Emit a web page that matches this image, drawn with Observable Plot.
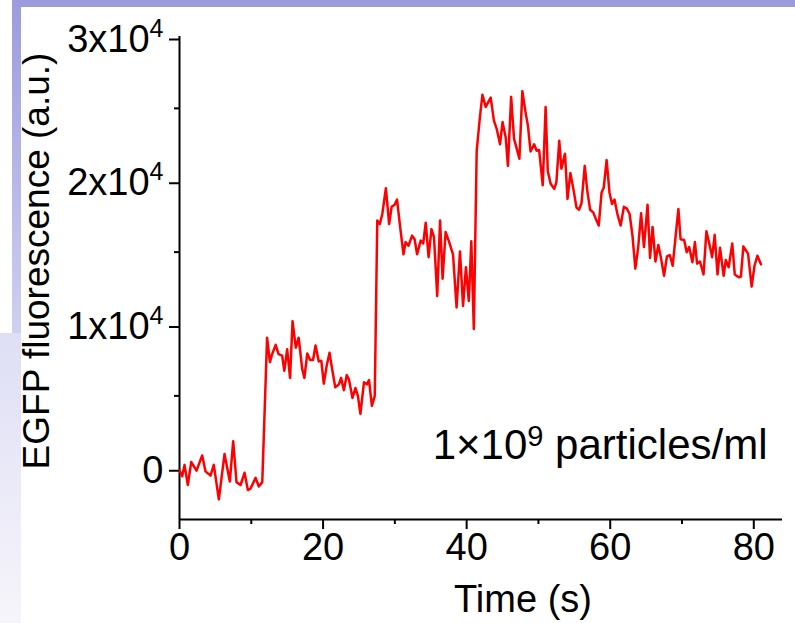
<!DOCTYPE html>
<html><head><meta charset="utf-8">
<script src="https://cdn.jsdelivr.net/npm/d3@7"></script>
<script src="https://cdn.jsdelivr.net/npm/@observablehq/plot@0.6"></script>
<style>
body{margin:0;background:#fff;width:795px;height:623px;position:relative;overflow:hidden;font-family:"Liberation Sans",Arial,sans-serif}
#chart{position:absolute;left:0;top:0}
.deco{position:absolute;pointer-events:none}
</style></head><body>
<div id="chart"></div>
<div class="deco" style="left:12px;top:0;width:783px;height:7px;background:rgb(155,155,222)"></div>
<div class="deco" style="left:12px;top:0;width:9px;height:333px;background:linear-gradient(rgb(155,155,222),rgb(208,208,240))"></div>
<div class="deco" style="left:0;top:333px;width:21px;height:290px;background:linear-gradient(rgb(222,222,245),rgb(246,245,251))"></div>
<script>
const time = [0.04,0.38,0.7,1.16,1.63,2.37,3.16,3.62,4.32,4.78,5.48,6.27,7.01,7.48,7.94,8.5,9.06,9.52,9.9,10.6,11.05,11.53,
12.2,12.6,12.9,13.4,13.8,14.3,14.6,15.0,15.4,15.75,16.2,16.6,17.1,17.4,17.8,18.2,18.6,18.95,19.4,19.75,20.1,20.5,20.9,21.3,21.7,22.2,22.5,22.9,23.3,23.6,24.1,24.5,24.85,25.2,25.7,26.1,26.4,26.8,27.2,
27.55,27.9,28.25,28.75,29.2,29.55,29.97,30.3,30.8,31.2,31.5,31.9,32.4,32.75,33.1,33.6,33.95,34.3,34.7,35.1,35.45,35.9,36.3,36.65,
37.07,37.5,38.1,38.6,39.07,39.5,39.9,40.3,40.65,41.0,
41.4,41.85,42.2,42.65,43.35,43.8,44.2,44.65,45.0,45.45,
45.75,46.2,46.6,47.35,47.76,48.2,48.55,48.9,49.4,49.75,
50.1,50.6,51.0,51.3,51.7,52.2,52.5,52.9,53.2,53.7,
54.05,54.45,54.9,55.3,55.65,56.0,56.45,56.8,57.2,57.65,
58.0,58.4,58.8,59.1,59.5,59.9,60.25,60.6,61.0,61.45,
61.9,62.3,62.7,63.1,63.5,63.9,64.3,64.7,65.2,65.55,
65.9,66.3,66.7,67.05,67.5,67.9,68.3,68.7,69.1,69.5,
69.8,70.3,70.65,71.0,71.45,71.8,72.1,72.5,73.0,73.4,
73.8,74.2,74.55,74.95,75.3,75.8,76.1,76.5,77.0,77.35,
77.9,78.2,78.55,79.2,79.7,80.1,80.5,81.0];
const fluorescence = [-200,-600,200,-1200,400,-200,850,-250,-550,200,-2200,950,-950,1850,-1000,-1200,-350,-1550,-1450,-700,-1300,-1000,
9050,7350,7900,8550,7900,7800,6750,8250,6250,10200,8350,9050,6850,6250,7950,7500,7500,8500,7400,7450,5850,7100,8000,6750,5600,5800,6250,5400,6450,6150,4850,5550,5000,3750,5950,5800,6100,4300,5000,
17200,16950,17650,19450,16950,18150,18300,18650,16500,14850,15700,15450,16150,15900,14850,15800,15600,17050,14650,16600,16050,11950,17200,13150,
16400,15800,14850,11150,15050,11250,13950,11600,15750,9650,
22050,24400,25950,25100,25750,24150,23550,22500,24050,22950,
21000,25800,22900,21500,26200,24750,23750,22000,22500,22050,
22100,19650,25100,20650,19750,19400,19850,22750,20800,21850,
18700,20500,19300,18100,17950,18400,21000,19300,17950,17750,
17300,16850,19150,19500,21400,19150,18350,18650,17650,16850,
18150,18050,17650,16150,13850,15350,17700,15350,18300,14600,
16750,14350,15500,14650,13350,14700,14800,14050,16050,18000,
15900,15850,15000,15350,14300,15700,14200,14350,13450,16450,
15600,14650,16200,13450,15300,13350,14450,13950,15600,13450,
13250,13300,15400,14900,12600,14050,14750,14150];
const xMajorTicks = [0,20,40,60,80];
const xMinorTicks = [10,30,50,70];
const yMajorTicks = [0,10000,20000,30000];
const yMinorTicks = [5000,15000,25000];
const yTickLabels = ["0","1x10^4","2x10^4","3x10^4"];
const xTitle = "Time (s)";
const yTitle = "EGFP fluorescence (a.u.)";
const annotation = "1\u00d710^9 particles/ml";

const data = time.map((t,i)=>({t, v: fluorescence[i]}));
const font = '"Liberation Sans", Arial, sans-serif';
const chart = Plot.plot({
  width:795, height:623, marginLeft:179, marginRight:13, marginTop:36, marginBottom:104,
  style:{fontFamily:font, fontSize:"38px", background:"transparent", color:"black"},
  x:{domain:[0,84]}, y:{domain:[-3600,30000]},
  marks:[
    Plot.axisX(xMajorTicks, {tickSize:10, tickPadding:4, strokeWidth:2, fontSize:38, label:null, tickFormat:d=>String(d)}),
    Plot.axisX(xMinorTicks, {tickSize:5, strokeWidth:2, fontSize:38, label:null, tickFormat:()=>""}),
    Plot.axisY(yMajorTicks, {tickSize:10, tickPadding:6, strokeWidth:2, fontSize:38, dy:3, label:null, tickFormat:d=>yTickLabels[yMajorTicks.indexOf(d)]}),
    Plot.axisY(yMinorTicks, {tickSize:5, strokeWidth:2, fontSize:38, label:null, tickFormat:()=>""}),
    Plot.ruleX([0], {strokeWidth:2}),
    Plot.ruleY([-3600], {strokeWidth:2}),
    Plot.line(data, {x:"t", y:"v", stroke:"#ff0000", strokeWidth:2.5}),
    Plot.text([yTitle], {text:d=>d, frameAnchor:"left", textAnchor:"middle", rotate:-90, dx:-142, dy:-17, fontSize:37}),
    Plot.text([xTitle], {text:d=>d, frameAnchor:"bottom", textAnchor:"middle", dx:42, dy:66, lineAnchor:"top", fontSize:38}),
    Plot.text([annotation], {text:d=>d, frameAnchor:"bottom-right", dx:-15, dy:-90, textAnchor:"end", lineAnchor:"top", fontSize:42})
  ]
});
document.getElementById("chart").appendChild(chart);
// render "^n" as superscripts
chart.querySelectorAll("text").forEach(el => {
  const m = /^(.*?)\^(\d+)(.*)$/.exec(el.textContent);
  if (!m) return;
  const ns = "http://www.w3.org/2000/svg";
  const big = !!m[3];
  const up = big ? 13 : 15;
  el.textContent = "";
  const a = document.createElementNS(ns, "tspan"); a.textContent = m[1]; el.appendChild(a);
  const s = document.createElementNS(ns, "tspan"); s.textContent = m[2];
  s.setAttribute("dy", String(-up)); s.setAttribute("font-size", big ? "29" : "25"); el.appendChild(s);
  if (m[3]) { const r = document.createElementNS(ns, "tspan"); r.textContent = m[3]; r.setAttribute("dy", String(up)); el.appendChild(r); }
});
</script>
</body></html>
